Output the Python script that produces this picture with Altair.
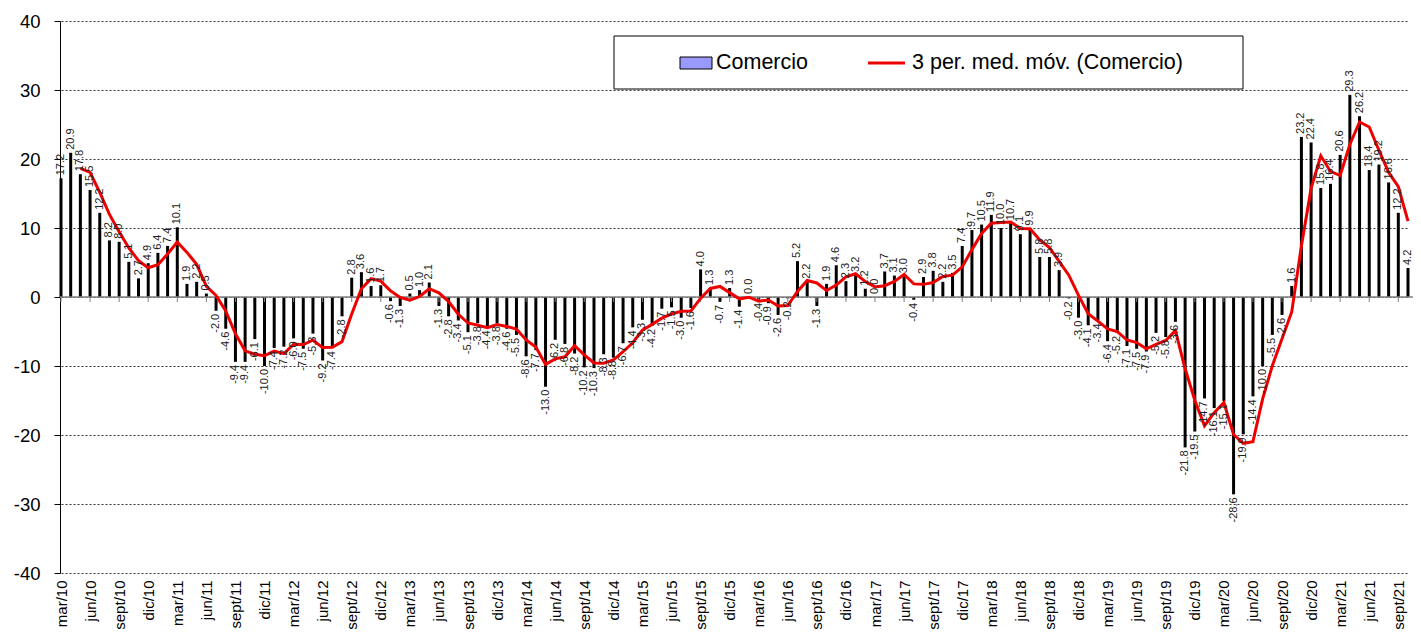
import altair as alt
import pandas as pd

FONT = "Liberation Sans, Arial, sans-serif"

MESES = ["ene", "feb", "mar", "abr", "may", "jun", "jul", "ago", "sept", "oct", "nov", "dic"]

comercio = [
    17.2, 20.9, 17.8, 15.5, 12.2, 8.2, 8.0, 5.1, 2.7, 4.9, 6.4, 7.4, 10.1,
    1.9, 2.2, 0.5,
    -2.0, -4.6, -9.4, -9.4, -6.1, -10.0, -7.4, -7.2,
    -6.0, -7.5, -5.3, -9.2, -7.4, -2.8,
    2.8, 3.6, 1.6, 1.7, -0.6, -1.3, 0.5, 1.0, 2.1,
    -1.3, -2.8, -3.4, -5.1, -3.8, -4.4, -3.8, -4.6, -5.5, -8.6, -7.7, -13.0,
    -6.2, -6.8, -8.2, -10.2, -10.3, -8.3, -8.8, -6.7, -4.4, -3.3, -4.2, -1.7,
    -1.5, -3.0, -1.6,
    4.0, 1.3, -0.7, 1.3,
    -1.4, 0.0, -0.4, -0.9, -2.6, -0.2,
    5.2, 2.2, -1.3, 1.9, 4.6, 2.3, 3.2, 1.2, 0.0, 3.7, 3.1, 3.0,
    -0.4, 2.9, 3.8, 2.2, 3.5, 7.4, 9.7, 10.5, 11.9, 10.0, 10.7, 9.1,
    9.9, 5.8, 5.8, 3.9, -0.2, -3.0, -4.1, -3.4, -6.4, -5.2, -7.1, -7.5,
    -7.9, -5.2, -5.8, -3.6,
    -21.8, -19.5, -14.7, -16.1, -15.1, -28.6,
    -19.9, -14.4, -10.0, -5.5, -2.6, 1.6, 23.2, 22.4, 15.8, 16.4, 20.6,
    29.3, 26.2, 18.4, 19.2, 16.6, 12.2, 4.2,
]

# monthly categories starting mar/10
meses = []
yr, mo = 2010, 2
for _ in range(len(comercio)):
    meses.append(f"{MESES[mo]}/{yr % 100:02d}")
    mo += 1
    if mo == 12:
        mo = 0
        yr += 1

tick_labels = meses[::3]
y_ticks = [-40, -30, -20, -10, 0, 10, 20, 30, 40]

df = pd.DataFrame({
    "mes": meses,
    "valor": comercio,
    "idx": list(range(len(comercio))),
    "txt": [f"{v:.1f}" for v in comercio],
})

x_scale = alt.Scale(type="point", domain=meses, range=[1, 1348], padding=0)
y_scale = alt.Scale(domain=[-40, 40], nice=False, zero=False)

x_axis = alt.Axis(values=tick_labels, labelAngle=270, labelAlign="right",
                  labelBaseline="middle", labelFontSize=15, labelPadding=7,
                  ticks=False, domain=False, grid=False, labelOverlap=False,
                  labelColor="black", labelFont=FONT, title=None)
y_axis = alt.Axis(values=y_ticks, labelExpr="'' + datum.value", labelFontSize=18.5,
                  labelFont=FONT, labelColor="black", labelPadding=14,
                  tickSize=6, tickColor="black", domainColor="black",
                  domainWidth=1, grid=True, gridColor="#333333",
                  gridDash=[2, 2], gridWidth=1, title=None)


def X(field="mes"):
    return alt.X(f"{field}:N", scale=x_scale, axis=x_axis, title=None)


def Y(field="valor"):
    return alt.Y(f"{field}:Q", scale=y_scale, axis=y_axis, title=None)


base = alt.Chart(df)

bars = base.mark_bar(size=3, color="black").encode(x=X(), y=Y())

zero = alt.Chart(pd.DataFrame({"valor": [0]})).mark_rule(
    color="#808080", strokeWidth=1.5).encode(y=Y())

zticks = alt.Chart(pd.DataFrame({"mes": tick_labels, "valor": [0] * len(tick_labels)})).mark_rule(
    color="#808080", strokeWidth=1, y2Offset=5).encode(
    x=X(), y=Y(), y2=alt.Y2("valor:Q"),
)

ma = base.transform_window(
    ma="mean(valor)", n="count()", frame=[-2, 0], sort=[alt.SortField("idx")]
).transform_filter("datum.n == 3").mark_line(color="#EE0000", strokeWidth=3).encode(
    x=X(), y=Y("ma")
)

pos = base.transform_filter("datum.valor >= 0").mark_text(
    angle=270, align="left", baseline="middle", dx=3, fontSize=11,
    font=FONT, color="#222222").encode(x=X(), y=Y(), text="txt:N")
neg = base.transform_filter("datum.valor < 0").mark_text(
    angle=270, align="right", baseline="middle", dx=-3, fontSize=11,
    font=FONT, color="#222222").encode(x=X(), y=Y(), text="txt:N")

one = pd.DataFrame({"k": [0]})
leg_box = alt.Chart(one).mark_rect(fill="white", stroke="black", strokeWidth=1).encode(
    x=alt.value(554), x2=alt.value(1183), y=alt.value(15), y2=alt.value(68))
leg_sw = alt.Chart(one).mark_rect(fill="#9999FF", stroke="black", strokeWidth=1).encode(
    x=alt.value(620), x2=alt.value(652), y=alt.value(36), y2=alt.value(48))
leg_line = alt.Chart(one).mark_rule(color="#EE0000", strokeWidth=3).encode(
    x=alt.value(808), x2=alt.value(845), y=alt.value(42))
leg_t1 = alt.Chart(one).mark_text(align="left", baseline="middle", fontSize=21.5,
                                  font=FONT, color="black").encode(
    x=alt.value(656), y=alt.value(42), text=alt.value("Comercio"))
leg_t2 = alt.Chart(one).mark_text(align="left", baseline="middle", fontSize=21.5,
                                  font=FONT, color="black").encode(
    x=alt.value(852), y=alt.value(42), text=alt.value("3 per. med. móv. (Comercio)"))

chart = alt.layer(
    bars, zero, zticks, ma, pos, neg, leg_box, leg_sw, leg_line, leg_t1, leg_t2
).properties(
    width=1353, height=552,
    background="white",
    autosize=alt.AutoSizeParams(type="none"),
    padding={"left": 52, "top": 13, "right": 0, "bottom": 56},
).configure_view(stroke=None)

chart.save("out.html", embed_options={"renderer": "svg", "actions": False})
